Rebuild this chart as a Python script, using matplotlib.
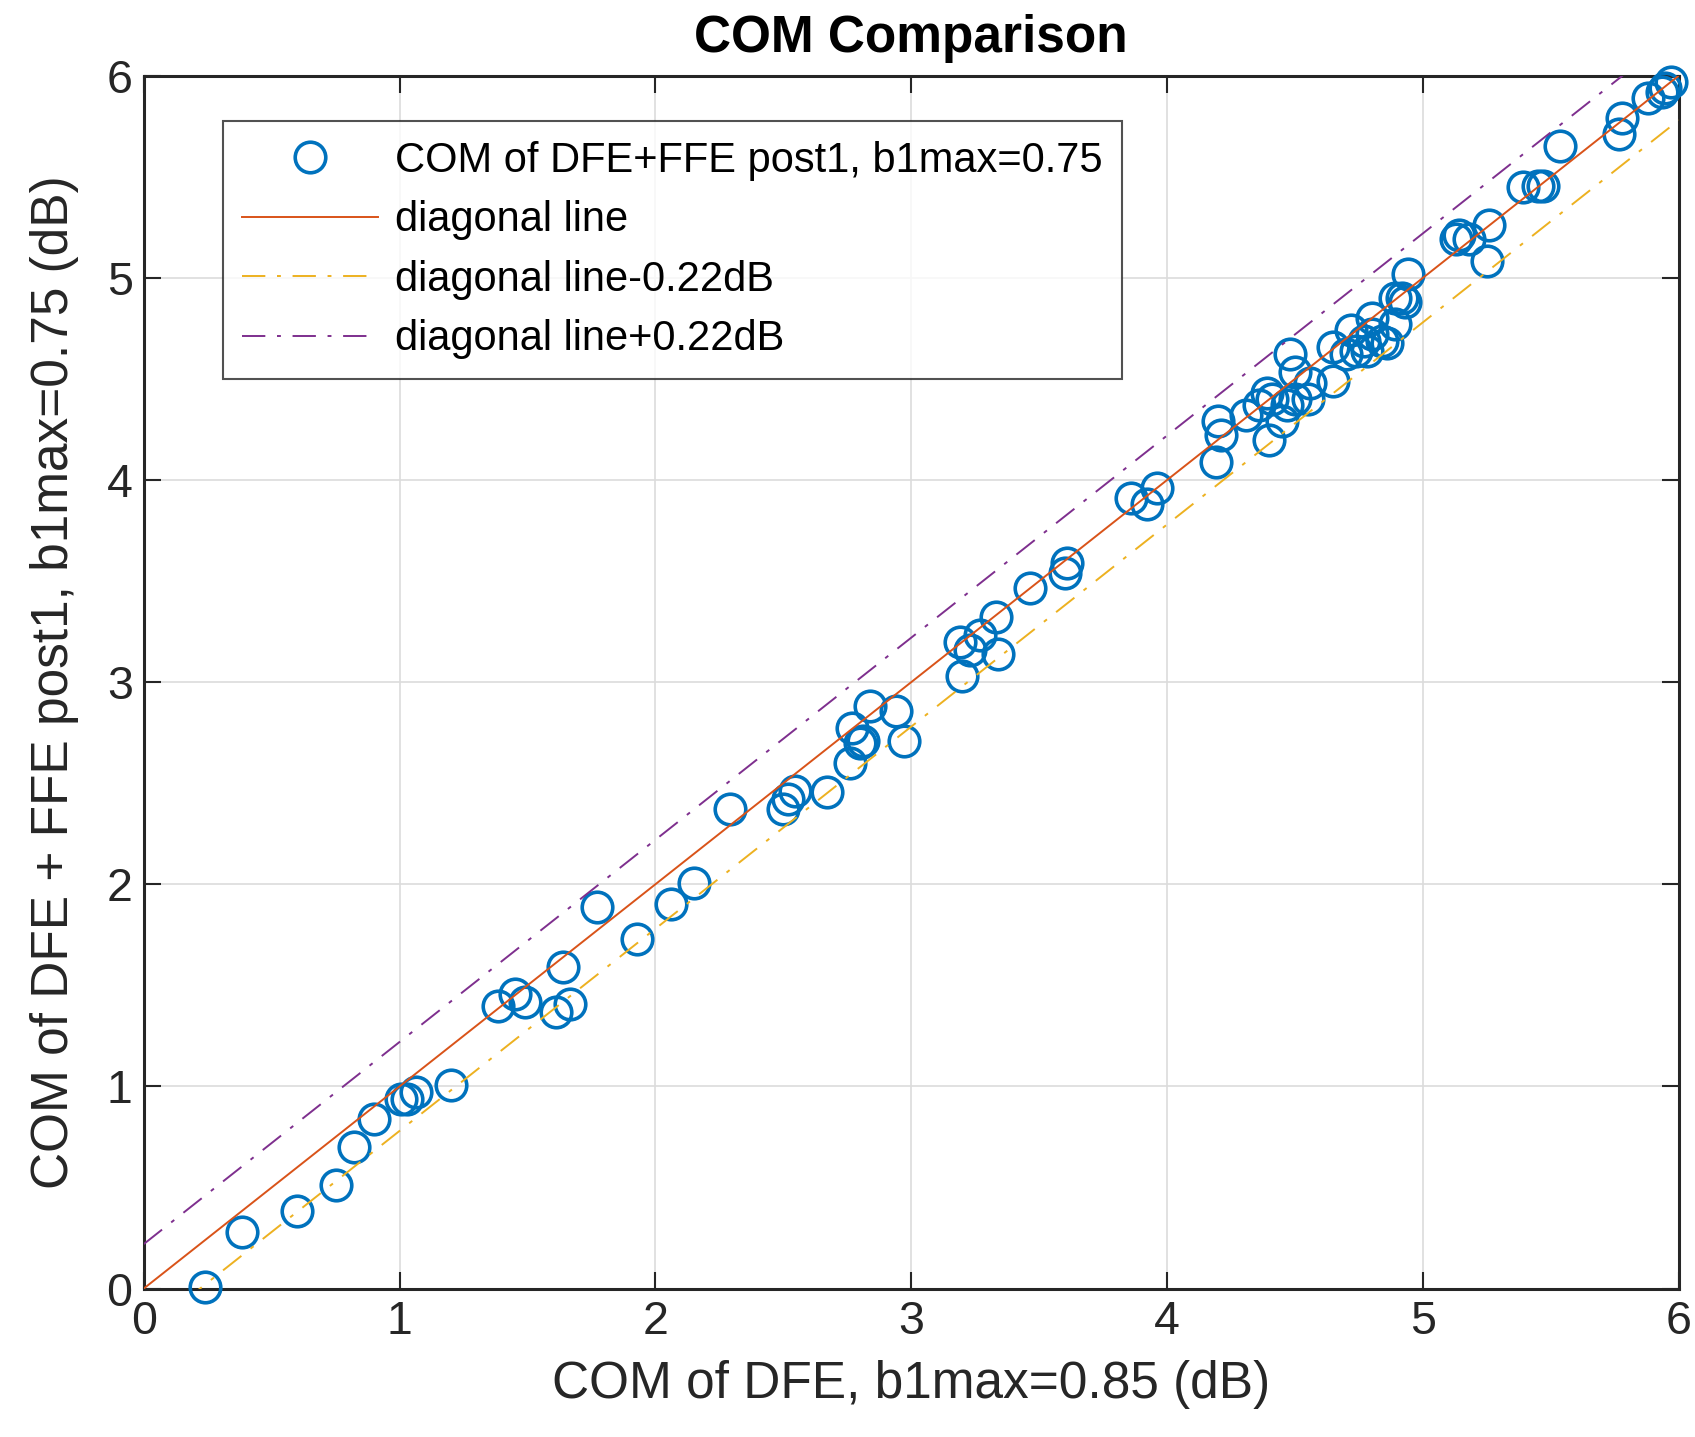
import numpy as np
import matplotlib
matplotlib.use('Agg')
import matplotlib.pyplot as plt

plt.rcParams['font.family'] = ['Liberation Sans', 'DejaVu Sans']

# COM results (dB) for each channel
com_dfe = [0.24, 0.385, 0.60, 0.75, 0.82, 0.90, 1.005, 1.03, 1.065, 1.20,
           1.386, 1.45, 1.49, 1.61, 1.665, 1.64, 1.77, 1.93, 2.06, 2.15,
           2.29, 2.50, 2.52, 2.545, 2.67, 2.76, 2.77, 2.80, 2.81, 2.84,
           2.94, 2.97, 3.19, 3.20, 3.23, 3.27, 3.33, 3.34, 3.465, 3.60,
           3.61, 3.86, 3.92, 3.96, 4.19, 4.20, 4.21, 4.31, 4.36, 4.40,
           4.39, 4.41, 4.45, 4.47, 4.50, 4.48, 4.50, 4.55, 4.56, 4.65,
           4.65, 4.70, 4.72, 4.74, 4.77, 4.78, 4.80, 4.80, 4.84, 4.86,
           4.89, 4.89, 4.92, 4.93, 4.94, 5.13, 5.14, 5.18, 5.25, 5.26,
           5.39, 5.45, 5.47, 5.535, 5.765, 5.78, 5.88, 5.935, 5.945, 5.97]
com_dfe_ffe = [0.01, 0.28, 0.385, 0.51, 0.70, 0.84, 0.936, 0.94, 0.973, 1.005,
               1.40, 1.455, 1.42, 1.37, 1.41, 1.59, 1.89, 1.73, 1.90, 2.005,
               2.37, 2.37, 2.42, 2.46, 2.455, 2.60, 2.775, 2.70, 2.71, 2.88,
               2.855, 2.71, 3.20, 3.03, 3.16, 3.235, 3.32, 3.14, 3.465, 3.54,
               3.59, 3.91, 3.88, 3.96, 4.09, 4.29, 4.225, 4.32, 4.37, 4.20,
               4.43, 4.40, 4.29, 4.37, 4.40, 4.625, 4.535, 4.40, 4.48, 4.49,
               4.66, 4.625, 4.74, 4.64, 4.69, 4.64, 4.80, 4.72, 4.69, 4.68,
               4.77, 4.90, 4.90, 4.88, 5.02, 5.19, 5.21, 5.19, 5.085, 5.26,
               5.45, 5.455, 5.455, 5.65, 5.71, 5.79, 5.89, 5.92, 5.94, 5.97]
offset = 0.22
lim = [0, 6]

fig = plt.figure(figsize=(16.95, 14.37), dpi=100)
ax = fig.add_axes([0.0848, 0.1033, 0.9056, 0.844])

# markers are not clipped at the axes edge
ax.plot(com_dfe, com_dfe_ffe, 'o', ms=22, mfc='none', mec='#0072BD', mew=2.6,
        clip_on=False, zorder=3, label='COM of DFE+FFE post1, b1max=0.75')
x = np.array(lim, dtype=float)
ax.plot(x, x, '-', color='#D95319', lw=1.4, zorder=4, label='diagonal line')
ax.plot(x, x - offset, '-.', color='#EDB120', lw=1.4, dashes=(12, 6, 2, 6),
        zorder=4, label='diagonal line-0.22dB')
ax.plot(x, x + offset, '-.', color='#7E2F8E', lw=1.4, dashes=(12, 6, 2, 6),
        zorder=4, label='diagonal line+0.22dB')

ax.set_xlim(lim)
ax.set_ylim(lim)
ax.set_xticks(range(7))
ax.set_yticks(range(7))
ax.grid(True, color='#dcdcdc', lw=1.2)
ax.set_axisbelow(True)
ax.tick_params(direction='in', length=12, width=1.5, top=True, right=True,
               labelsize=33.5, colors='#262626', pad=8)
for s in ax.spines.values():
    s.set_linewidth(2.2)
    s.set_color('#262626')

ax.set_title('COM Comparison', fontsize=37, fontweight='bold', pad=17)
ax.set_xlabel('COM of DFE, b1max=0.85 (dB)', fontsize=37, color='#262626',
              labelpad=12)
ax.set_ylabel('COM of DFE + FFE post1, b1max=0.75 (dB)', fontsize=37,
              color='#262626', labelpad=20)

leg = ax.legend(loc='upper left', bbox_to_anchor=(0.0514, 0.9626), fontsize=30,
                frameon=True, fancybox=False, edgecolor='#262626',
                handlelength=3.26, handletextpad=0.41, borderpad=0.47,
                borderaxespad=0, labelspacing=0.47)
leg.get_frame().set_linewidth(1.5)
leg.set_zorder(10)

fig.savefig('out.png', dpi=100)
